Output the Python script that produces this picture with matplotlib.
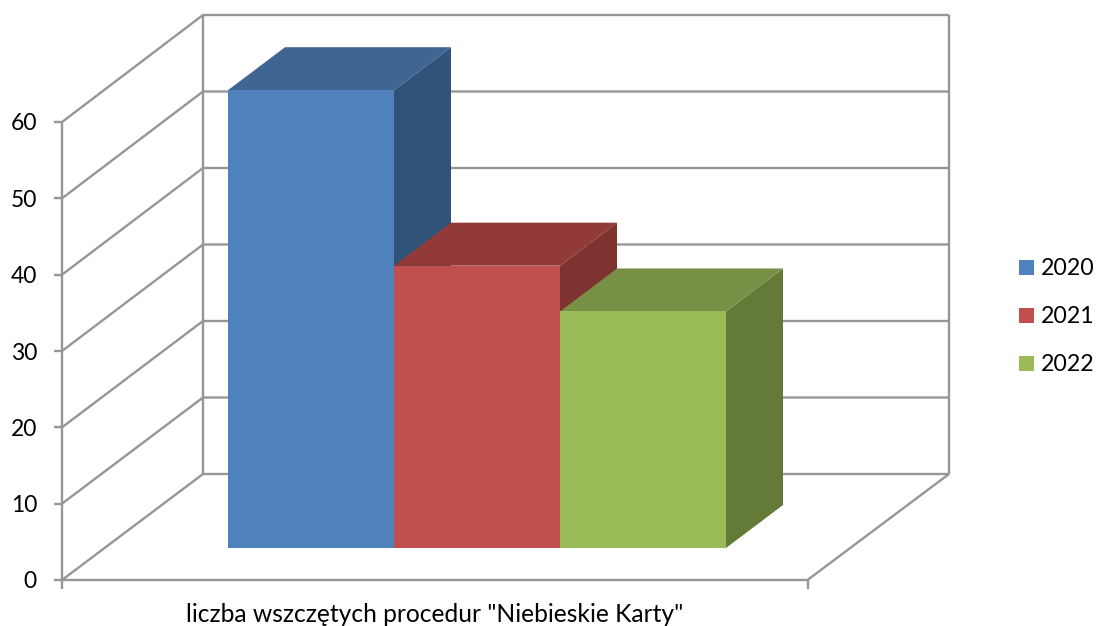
from matplotlib import pyplot as plt
from matplotlib.patches import Polygon, Rectangle

categories = ['liczba wszczętych procedur "Niebieskie Karty"']
years = ['2020', '2021', '2022']
values = [60, 37, 31]
y_ticks = [0, 10, 20, 30, 40, 50, 60]

front_colors = ['#4F81BD', '#C0504D', '#9BBB59']
top_colors = ['#3F6592', '#913A38', '#789046']
side_colors = ['#325379', '#7E3331', '#647A37']
GRID = '#969696'

# pixel geometry of the fake 3D box
X0, X1 = 62, 807.5
Y0 = 580
UNIT = (580 - 122) / 60
WALL_DX, WALL_DY = 141, -106
WALL_UNIT = 76.5 / 10
BAR_X0, BAR_W = 228, 166
BAR_DX, BAR_DY = 57, -43
BAR_Y0 = 548
BAR_UNIT = 7.63

plt.rcParams['font.family'] = ['Lato', 'DejaVu Sans']
fig = plt.figure(figsize=(10.96, 6.26), dpi=100)
ax = fig.add_axes([0, 0, 1, 1])
ax.set_xlim(0, 1096)
ax.set_ylim(626, 0)
ax.axis('off')


def line(xs, ys):
    ax.plot(xs, ys, color=GRID, lw=1.7, solid_capstyle='butt', zorder=1)


# walls and gridlines
BACK_Y0 = Y0 + WALL_DY
BACK_X0 = X0 + WALL_DX
BACK_X1 = X1 + WALL_DX + 0.5
for t in y_ticks:
    y = Y0 - t * UNIT
    yb = BACK_Y0 - t * WALL_UNIT
    line([X0, BACK_X0, BACK_X1], [y, yb, yb])
    line([X0 - 8, X0], [y, y])
    ax.text(37, y + 2, str(t), ha='right', va='center', fontsize=16.5, color='black')
back_top = BACK_Y0 - y_ticks[-1] * WALL_UNIT
line([X0, X0], [Y0, Y0 - y_ticks[-1] * UNIT])
line([BACK_X0, BACK_X0], [BACK_Y0, back_top])
line([BACK_X1, BACK_X1], [BACK_Y0, back_top])
line([X0, X1, BACK_X1], [Y0, Y0, BACK_Y0])
line([X0, X0], [Y0, Y0 + 9])
line([X1, X1], [Y0, Y0 + 9])

# bars, drawn left to right so each front covers the previous side
for i, v in enumerate(values):
    left = BAR_X0 + i * BAR_W
    right = left + BAR_W
    h = BAR_Y0 - v * BAR_UNIT
    ax.add_patch(Polygon([(right, BAR_Y0), (right + BAR_DX, BAR_Y0 + BAR_DY),
                          (right + BAR_DX, h + BAR_DY), (right, h)],
                         fc=side_colors[i], ec='none', zorder=2 + i))
    ax.add_patch(Polygon([(left, h), (left + BAR_DX, h + BAR_DY),
                          (right + BAR_DX, h + BAR_DY), (right, h)],
                         fc=top_colors[i], ec='none', zorder=2 + i))
    ax.add_patch(Rectangle((left, h), BAR_W, BAR_Y0 - h,
                           fc=front_colors[i], ec='none', zorder=2 + i))

ax.text(434.5, 615, categories[0], ha='center', va='center',
        fontsize=17.7, color='black')

# legend
for i, year in enumerate(years):
    y = 267.5 + i * 48
    ax.add_patch(Rectangle((1019, y - 7.5), 15, 15, fc=front_colors[i], ec='none'))
    ax.text(1041, y + 1, year, ha='left', va='center', fontsize=16.7, color='black')

fig.savefig('out.png', dpi=100)
